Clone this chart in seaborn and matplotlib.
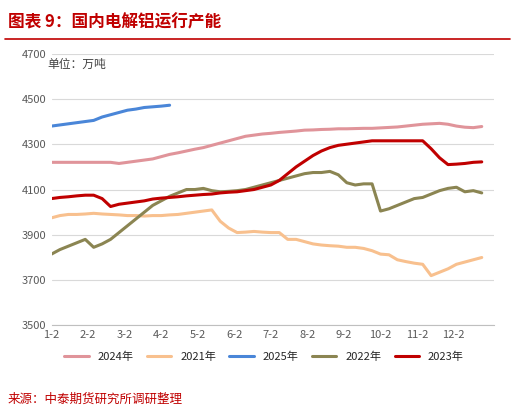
import numpy as np
import pandas as pd
import seaborn as sns
import matplotlib
matplotlib.use("Agg")
import matplotlib.pyplot as plt

sns.set_style("white")
plt.rcParams['font.family'] = ['Noto Sans CJK SC', 'DejaVu Sans']

months = ["1-2","2-2","3-2","4-2","5-2","6-2","7-2","8-2","9-2","10-2","11-2","12-2"]
y2024 = [4220]*8 + [4215,4220,4225,4230,4235,4245,4255,4262,4270,4278,4285,4295,4305,4315,4325,4335,4340,4345,4348,4352,4355,4358,4362,4363,4365,4366,4368,4368,4369,4370,4370,4372,4374,4376,4380,4384,4388,4390,4392,4388,4380,4375,4373,4378]
y2021 = [3975,3985,3990,3990,3992,3995,3992,3990,3988,3985,3985,3983,3985,3985,3988,3990,3995,4000,4005,4010,
         3960,3930,3910,3912,3915,3912,3910,3910,3880,3880,3870,3860,3855,3852,3850,3845,3845,3840,3830,3815,3812,3790,3782,3775,3770,
         3720,3735,3750,3770,3780,3790,3800]
y2025 = [4380,4385,4390,4395,4400,4405,4420,4430,4440,4450,4455,4462,4465,4468,4472]
y2022 = [3815,3835,3850,3865,3880,3845,3860,3880,3910,3940,3970,4000,4030,4050,4070,4085,4100,4100,4105,4095,
         4090,4092,4095,4100,4110,4120,4130,4140,4150,4160,4170,4175,4175,4180,4165,4130,4120,4125,4125,
         4005,4015,4030,4045,4060,4065,4080,4095,4105,4110,4090,4095,4085]
y2023 = [4060,4065,4068,4072,4075,4075,4060,4025,4035,4040,4045,4050,4058,4062,4065,4068,4072,4075,4078,4080,
         4085,4088,4090,4095,4100,4110,4120,4140,4170,4200,4225,4250,4270,4285,4295,4300,4305,4310,4315,4315,
         4315,4315,4315,4315,4315,4280,4240,4210,4212,4215,4220,4222]

series = [("2024年", y2024, "#E0949A"), ("2021年", y2021, "#F8C08E"), ("2025年", y2025, "#4A86D8"),
          ("2022年", y2022, "#8B8552"), ("2023年", y2023, "#C00000")]
rows = []
for name, vals, _ in series:
    for i, v in enumerate(vals):
        rows.append({"week": i, "val": v, "year": name})
df = pd.DataFrame(rows)
pal = {n: c for n, _, c in series}

fig = plt.figure(figsize=(5.15, 4.12), dpi=100)
ax = fig.add_axes([0.1, 0.21, 0.86, 0.66])
sns.lineplot(data=df, x="week", y="val", hue="year", palette=pal, linewidth=2.2, ax=ax,
             hue_order=[n for n, _, _ in series])
ax.set_ylim(3500, 4700)
ax.set_yticks(range(3500, 4701, 200))
ax.set_xlim(0, 52.5)
ax.set_xticks([i * 4.33 for i in range(12)])
ax.set_xticklabels(months)
ax.tick_params(labelsize=8, colors="#595959", length=0)
ax.grid(axis="y", color="#D9D9D9", linewidth=0.8)
for s in ["top", "right", "left"]:
    ax.spines[s].set_visible(False)
ax.spines["bottom"].set_color("#BFBFBF")
ax.set_xlabel(""); ax.set_ylabel("")
ax.text(-0.5, 4650, "单位：万吨", fontsize=8.5, color="#404040", va="center")
ax.legend(loc="upper center", bbox_to_anchor=(0.48, -0.06), ncol=5, frameon=False, fontsize=8,
          handlelength=2.2, columnspacing=1.2)
fig.text(0.015, 0.945, "图表 9：国内电解铝运行产能", color="#C00000", fontsize=12, fontweight="bold",
         fontstyle="italic", va="center")
fig.add_artist(plt.Line2D([0.01, 0.99], [0.905, 0.905], color="#C00000", linewidth=1.2))
fig.text(0.015, 0.03, "来源：中泰期货研究所调研整理", color="#C00000", fontsize=9, va="center")
fig.savefig("out.png", dpi=100)
